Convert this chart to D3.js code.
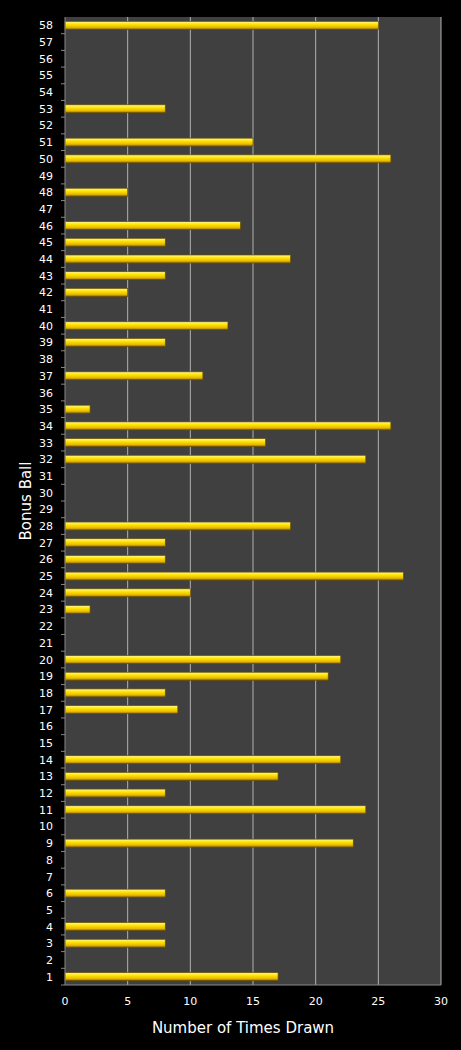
<!DOCTYPE html><html><head><script src="https://cdn.jsdelivr.net/npm/d3@7"></script>
<style>body{margin:0;background:#000}</style></head><body><svg id="c" width="461" height="1050"></svg>
<script>
const balls = d3.range(1,59);
const drawnBalls = [58,53,51,50,48,46,45,44,43,42,40,39,37,35,34,33,32,28,27,26,25,24,23,20,19,18,17,14,13,12,11,9,6,4,3,1];
const drawnCounts = [25,8,15,26,5,14,8,18,8,5,13,8,11,2,26,16,24,18,8,8,27,10,2,22,21,8,9,22,17,8,24,23,8,8,8,17];
const xTicks = [0,5,10,15,20,25,30];
const data = balls.map(b=>{const i=drawnBalls.indexOf(b);return {b, v:i<0?0:drawnCounts[i]};});
const svg=d3.select("#c");
const L=65,R=441,T=17,B=985;
const x=d3.scaleLinear().domain([0,30]).range([L,R]);
const y=d3.scaleBand().domain(balls.slice().reverse()).range([T,B]);
const defs=svg.append("defs");
const g=defs.append("linearGradient").attr("id","gy").attr("x1",0).attr("x2",0).attr("y1",0).attr("y2",1);
[[0,"#fff6a0"],[0.35,"#ffe600"],[0.75,"#e8b800"],[1,"#8a6a00"]].forEach(s=>g.append("stop").attr("offset",s[0]).attr("stop-color",s[1]));
svg.append("rect").attr("x",L).attr("y",T).attr("width",R-L).attr("height",B-T).attr("fill","#404040");
svg.append("g").selectAll("line").data(xTicks.slice(1)).join("line").attr("x1",d=>x(d)).attr("x2",d=>x(d)).attr("y1",T).attr("y2",B).attr("stroke","#b0b0b0").attr("stroke-width",1);
svg.append("g").selectAll("rect").data(data.filter(d=>d.v>0)).join("rect")
 .attr("x",x(0)).attr("y",d=>y(d.b)+y.bandwidth()/2-4).attr("width",d=>x(d.v)-x(0)).attr("height",8)
 .attr("fill","url(#gy)").attr("stroke","#6a5000").attr("stroke-width",0.7);
svg.append("line").attr("x1",L).attr("x2",L).attr("y1",T).attr("y2",B).attr("stroke","#888");
svg.append("line").attr("x1",L).attr("x2",R).attr("y1",B).attr("y2",B).attr("stroke","#888");
const f="Verdana, 'DejaVu Sans', sans-serif";
svg.append("g").selectAll("text").data(balls).join("text").attr("x",L-12).attr("y",d=>y(d)+y.bandwidth()/2+4).attr("text-anchor","end").attr("fill","#fff").attr("font-family",f).attr("font-size",11).text(d=>d);
svg.append("g").selectAll("line").data(balls).join("line").attr("x1",L-4).attr("x2",L).attr("y1",d=>y(d)+y.bandwidth()).attr("y2",d=>y(d)+y.bandwidth()).attr("stroke","#888");
svg.append("g").selectAll("text").data(xTicks).join("text").attr("x",d=>x(d)).attr("y",B+20).attr("text-anchor","middle").attr("fill","#fff").attr("font-family",f).attr("font-size",11).text(d=>d);
svg.append("text").attr("x",(L+R)/2-10).attr("y",1033).attr("text-anchor","middle").attr("fill","#fff").attr("font-family",f).attr("font-size",15).text("Number of Times Drawn");
svg.append("text").attr("transform","translate(31,501) rotate(-90)").attr("text-anchor","middle").attr("fill","#fff").attr("font-family",f).attr("font-size",15).text("Bonus Ball");
</script></body></html>
